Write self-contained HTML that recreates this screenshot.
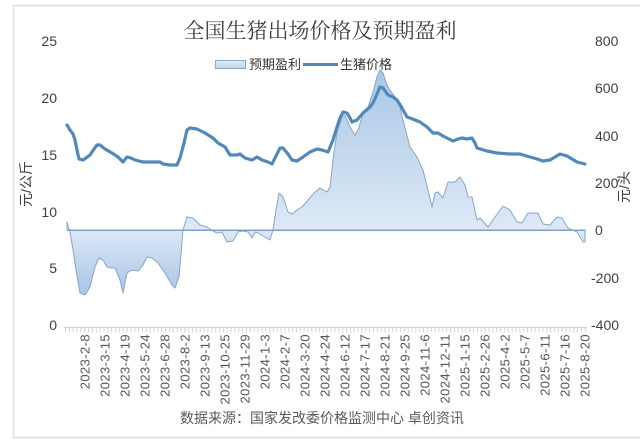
<!DOCTYPE html>
<html><head><meta charset="utf-8"><style>
html,body{margin:0;padding:0;background:#fff;}
svg{display:block;}
</style></head><body>
<svg width="640" height="440" viewBox="0 0 640 440" xmlns="http://www.w3.org/2000/svg">
<defs>
<linearGradient id="g" gradientUnits="userSpaceOnUse" x1="0" y1="65" x2="0" y2="300">
<stop offset="0" stop-color="#a8c6e6"/>
<stop offset="0.70" stop-color="#dde9f6"/>
<stop offset="1" stop-color="#a2c2e4"/>
</linearGradient>
<linearGradient id="lg" x1="0" y1="0" x2="0" y2="1">
<stop offset="0" stop-color="#e3eef8"/>
<stop offset="1" stop-color="#bcd3eb"/>
</linearGradient>
</defs>
<rect x="0" y="0" width="640" height="440" fill="#fff"/>
<rect x="13.5" y="5.5" width="640" height="432" fill="none" stroke="#dedede" stroke-width="1.5"/>

<text x="320" y="38" text-anchor="middle" font-family="'Noto Serif CJK SC','Liberation Serif',serif" font-size="21" fill="#404040">全国生猪出场价格及预期盈利</text>

<!-- legend -->
<rect x="215.5" y="60.5" width="30" height="8" fill="url(#lg)" stroke="#8da9c6" stroke-width="1"/>
<text x="249" y="69" font-family="'Liberation Sans','Noto Sans CJK SC',sans-serif" font-size="13" fill="#333">预期盈利</text>
<line x1="303" y1="64.5" x2="338" y2="64.5" stroke="#5289bb" stroke-width="3"/>
<text x="340" y="69" font-family="'Liberation Sans','Noto Sans CJK SC',sans-serif" font-size="13" fill="#333">生猪价格</text>

<!-- left axis labels -->
<g font-family="'Liberation Sans',sans-serif" font-size="14" fill="#404040" text-anchor="end">
<text x="57" y="46">25</text>
<text x="57" y="103">20</text>
<text x="57" y="160">15</text>
<text x="57" y="217">10</text>
<text x="57" y="273">5</text>
<text x="57" y="330">0</text>
</g>
<g font-family="'Liberation Sans',sans-serif" font-size="14" fill="#404040" text-anchor="start">
<text x="595" y="46">800</text>
<text x="595" y="93">600</text>
<text x="595" y="141">400</text>
<text x="595" y="188">200</text>
<text x="595" y="235">0</text>
<text x="591" y="283">-200</text>
<text x="591" y="330">-400</text>
</g>
<text transform="translate(26,184) rotate(-90)" text-anchor="middle" dominant-baseline="central" font-family="'Liberation Sans','Noto Sans CJK SC',sans-serif" font-size="14" fill="#404040">元/公斤</text>
<text transform="translate(624,187) rotate(-90)" text-anchor="middle" dominant-baseline="central" font-family="'Liberation Sans','Noto Sans CJK SC',sans-serif" font-size="14" fill="#404040">元/头</text>

<!-- profit area -->
<polygon fill="url(#g)" stroke="#8aa6c4" stroke-width="1" stroke-linejoin="round" points="67,230 67,222 70,232 73,250 76,270 80,293 85,295 90,287 95,267 99,258 103,260 107,267 111,268 115,268 120,280 123,293 127,273 132,270 138,271 143,265 147,257 152,258 158,263 165,273 172,285 175,288 179,277 181,255 183,230 187,217 193,218 200,225 207,227 213,231 217,233 222,232 227,242 233,241 238,232 242,231 248,232 252,238 255,232 258,233 263,236 270,240 273,230 276,210 279,193 283,197 288,212 292,214 297,210 302,207 308,200 315,192 320,188 327,192 330,187 333,160 337,132 342,117 345,115 350,127 355,135 358,130 362,117 365,110 368,107 373,92 377,77 380,70 383,73 387,85 390,90 395,97 400,107 403,120 410,147 417,157 423,170 428,190 432,207 435,193 438,192 443,198 448,182 455,182 460,177 465,185 468,197 472,197 477,220 480,218 488,227 495,217 503,206 510,210 517,222 522,223 528,213 538,213 543,224 550,225 557,217 562,218 568,228 577,232 583,242 585,242 585,230"/>
<line x1="67" y1="230.5" x2="585" y2="230.5" stroke="#7f9fc2" stroke-width="1"/>

<!-- price line -->
<polyline fill="none" stroke="#5289bb" stroke-width="3.2" stroke-linejoin="round" stroke-linecap="round" points="67,125 70,130 73,134 75,140 77,150 79,159 83,160 86,158 90,155 94,149 97,145 100,145 105,149 112,153 118,157 123,162 127,157 131,158 135,160 143,162 150,162 160,162 163,164 170,165 177,165 180,158 184,143 187,130 190,128 197,129 205,133 213,138 218,143 225,147 230,155 234,155 237,155 240,154 245,158 252,160 257,157 262,160 268,162 272,164 276,156 280,148 283,148 288,154 292,160 297,161 303,157 310,152 317,149 322,150 328,152 333,140 337,127 340,118 343,112 347,113 350,118 352,122 357,120 363,113 370,107 373,103 377,94 380,87 383,88 388,95 393,97 397,100 402,108 407,117 410,118 415,120 420,122 427,127 433,133 438,133 443,136 447,138 453,141 458,139 462,138 467,139 472,138 475,143 477,148 487,151 497,153 510,154 520,154 530,157 537,159 543,161 550,160 555,157 560,154 567,156 572,159 577,162 585,164"/>

<!-- x axis -->
<line x1="64" y1="327.5" x2="587" y2="327.5" stroke="#d0d0d0" stroke-width="1"/>
<line x1="65" y1="330" x2="587" y2="330" stroke="#d6d6d6" stroke-width="5" stroke-dasharray="1 2.85"/>

<g font-family="'Liberation Sans',sans-serif" font-size="13" fill="#555" text-anchor="end" dominant-baseline="central" letter-spacing="0.4">
<text transform="translate(85,334) rotate(-90)">2023-2-8</text>
<text transform="translate(105,334) rotate(-90)">2023-3-15</text>
<text transform="translate(125,334) rotate(-90)">2023-4-19</text>
<text transform="translate(145,334) rotate(-90)">2023-5-24</text>
<text transform="translate(165,334) rotate(-90)">2023-6-28</text>
<text transform="translate(185,334) rotate(-90)">2023-8-2</text>
<text transform="translate(205,334) rotate(-90)">2023-9-13</text>
<text transform="translate(225,334) rotate(-90)">2023-10-25</text>
<text transform="translate(245,334) rotate(-90)">2023-11-29</text>
<text transform="translate(265,334) rotate(-90)">2024-1-3</text>
<text transform="translate(285,334) rotate(-90)">2024-2-7</text>
<text transform="translate(305,334) rotate(-90)">2024-3-20</text>
<text transform="translate(325,334) rotate(-90)">2024-4-24</text>
<text transform="translate(345,334) rotate(-90)">2024-6-12</text>
<text transform="translate(365,334) rotate(-90)">2024-7-17</text>
<text transform="translate(385,334) rotate(-90)">2024-8-21</text>
<text transform="translate(405,334) rotate(-90)">2024-9-25</text>
<text transform="translate(425,334) rotate(-90)">2024-11-6</text>
<text transform="translate(445,334) rotate(-90)">2024-12-11</text>
<text transform="translate(465,334) rotate(-90)">2025-1-15</text>
<text transform="translate(485,334) rotate(-90)">2025-2-26</text>
<text transform="translate(505,334) rotate(-90)">2025-4-2</text>
<text transform="translate(525,334) rotate(-90)">2025-5-7</text>
<text transform="translate(545,334) rotate(-90)">2025-6-11</text>
<text transform="translate(565,334) rotate(-90)">2025-7-16</text>
<text transform="translate(585,334) rotate(-90)">2025-8-20</text>
</g>

<text x="322" y="423" text-anchor="middle" font-family="'Liberation Sans','Noto Sans CJK SC',sans-serif" font-size="14" fill="#595959">数据来源：国家发改委价格监测中心 卓创资讯</text>
</svg>
</body></html>
